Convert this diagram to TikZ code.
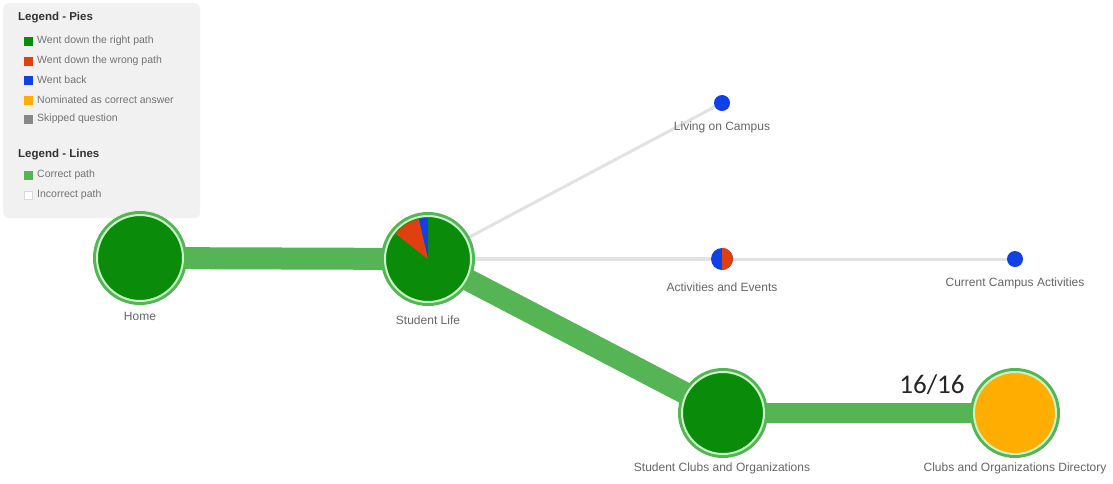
\documentclass[tikz,border=0pt]{standalone}
\usepackage{fontspec}
\setmainfont{Liberation Sans}
\newfontfamily\numfont{Carlito}
\usetikzlibrary{backgrounds}
\definecolor{pathgreen}{HTML}{55B555}
\definecolor{piegreen}{HTML}{0A8C0A}
\definecolor{piered}{HTML}{E0400F}
\definecolor{pieblue}{HTML}{1040E8}
\definecolor{pieorange}{HTML}{FFAE00}
\definecolor{piegrey}{HTML}{888888}
\definecolor{ringlight}{HTML}{C8F5C8}
\definecolor{lblgrey}{HTML}{666666}
\definecolor{greyline}{HTML}{E2E2E2}
\definecolor{legbg}{HTML}{F1F1F1}
\begin{document}
\begin{tikzpicture}[x=1pt,y=-1pt,
 bignode/.style={circle, minimum size=86pt, inner sep=0pt, fill=piegreen, draw=ringlight, line width=2pt, preaction={draw=pathgreen, line width=8pt}},
 smallnode/.style={circle, inner sep=0pt, fill=pieblue},
 lbl/.style={font=\fontsize{12}{14}\selectfont, text=lblgrey},
 correct/.style={draw=pathgreen, line width=22pt},
 incorrect/.style={draw=greyline, line width=3pt},
 legtitle/.style={font=\bfseries\fontsize{11.5}{13}\selectfont, text=black!80, anchor=west, inner sep=0pt},
 legtext/.style={font=\fontsize{10.5}{12}\selectfont, text=black!55, anchor=west, inner sep=0pt},
 legsq/.style={minimum size=9pt, inner sep=0pt}
]
\useasboundingbox (0,0) rectangle (1113,483);
% legend
\node (legend) [fill=legbg, rounded corners=6pt, minimum width=197pt, minimum height=215pt, anchor=north west, inner sep=0pt] at (3,3) {};
\node[legtitle] (lt1) at (18,18) {Legend - Pies};
\node[legsq, fill=piegreen] (s1) at (28,41) {};
\node[legtext] (t1) at (37,41) {Went down the right path};
\node[legsq, fill=piered] (s2) at (28,61) {};
\node[legtext] (t2) at (37,61) {Went down the wrong path};
\node[legsq, fill=pieblue] (s3) at (28,80) {};
\node[legtext] (t3) at (37,80) {Went back};
\node[legsq, fill=pieorange] (s4) at (28,100) {};
\node[legtext] (t4) at (37,100) {Nominated as correct answer};
\node[legsq, fill=piegrey] (s5) at (28,119) {};
\node[legtext] (t5) at (37,119) {Skipped question};
\node[legtitle] (lt2) at (18,155) {Legend - Lines};
\node[legsq, fill=pathgreen] (s6) at (28,175) {};
\node[legtext] (t6) at (37,175) {Correct path};
\node[legsq, fill=white, draw=black!15, line width=0.5pt, minimum size=8.5pt] (s7) at (28,195) {};
\node[legtext] (t7) at (37,195) {Incorrect path};
% nodes
\node[bignode] (home) at (140,258) {};
\node[bignode] (sl) at (428,259) {};
\fill[pieblue] (sl.center) -- ++(90:41pt) arc (90:103:41pt) -- cycle;
\fill[piered] (sl.center) -- ++(103:41pt) arc (103:142:41pt) -- cycle;
\node[bignode, minimum size=82pt] (sco) at (723,413) {};
\node[bignode, minimum size=82pt, fill=pieorange] (cod) at (1015,413) {};
\node[smallnode, minimum size=16pt] (loc) at (722,103) {};
\node[smallnode, minimum size=22pt] (ae) at (722,259) {};
\fill[piered] (ae.north) arc (90:-90:11pt) -- cycle;
\node[smallnode, minimum size=16pt] (cca) at (1015,259) {};
% labels
\node[lbl] (homel) at (140,316) {Home};
\node[lbl] (sll) at (428,320) {Student Life};
\node[lbl] (locl) at (722,127) {Living on Campus};
\node[lbl] (ael) at (722,287) {Activities and Events};
\node[lbl] (ccal) at (1015,283) {Current Campus Activities};
\node[lbl] (scol) at (722,468) {Student Clubs and Organizations};
\node[lbl] (codl) at (1015,468) {Clubs and Organizations Directory};
\node[font=\numfont\fontsize{27}{30}\selectfont, text=black!85] (frac) at (932,385) {16/16};
% connectors
\begin{pgfonlayer}{background}
\fill[white] (0,0) rectangle (1113,483);
\draw[correct] (home.center) -- (sl.center);
\draw[correct] (sl.center) -- (sco.center);
\draw[correct, line width=20pt] (sco.center) -- (cod.center);
\draw[incorrect] (sl.center) -- (loc.center);
\draw[incorrect, line width=4pt] (sl.center) -- (ae.center);
\draw[incorrect] (ae.center) -- (cca.center);
\end{pgfonlayer}
\end{tikzpicture}
\end{document}
